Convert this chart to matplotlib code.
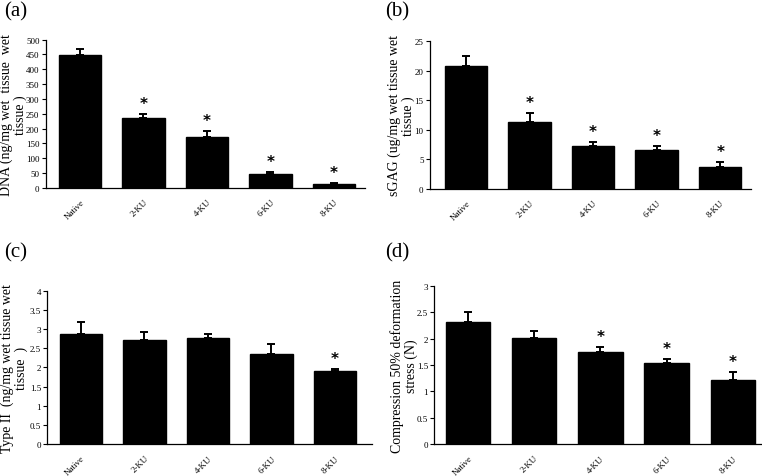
import numpy as np
import matplotlib
matplotlib.use("Agg")
import matplotlib.pyplot as plt

plt.rcParams['font.family'] = ['Liberation Serif', 'DejaVu Serif']

groups = ['Native', '2-KU', '4-KU', '6-KU', '8-KU']

dna = [448, 237, 173, 47, 13]
dna_err = [20, 11, 19, 6, 4]
dna_sig = [False, True, True, True, True]

sgag = [20.8, 11.3, 7.2, 6.6, 3.7]
sgag_err = [1.6, 1.6, 0.8, 0.7, 0.9]
sgag_sig = [False, True, True, True, True]

col2 = [2.87, 2.71, 2.77, 2.35, 1.90]
col2_err = [0.31, 0.23, 0.10, 0.27, 0.05]
col2_sig = [False, False, False, False, True]

comp = [2.31, 2.01, 1.75, 1.54, 1.21]
comp_err = [0.20, 0.13, 0.09, 0.07, 0.16]
comp_sig = [False, False, True, True, True]

panels = [
    dict(pos=[0.060, 0.604, 0.419, 0.311], vals=dna, err=dna_err, sig=dna_sig,
         ymax=500, step=50, xlim=(-0.54, 4.49), tag='(a)', tagpos=(0.005, 0.995),
         ylabel='DNA (ng/mg wet  tissue  wet\ntissue )', fmt='{:.0f}', labx=0.018),
    dict(pos=[0.564, 0.602, 0.422, 0.310], vals=sgag, err=sgag_err, sig=sgag_sig,
         ymax=25, step=5, xlim=(-0.57, 4.49), tag='(b)', tagpos=(0.505, 0.995),
         ylabel='sGAG (ug/mg wet tissue wet\ntissue )', fmt='{:.0f}', labx=0.527),
    dict(pos=[0.062, 0.067, 0.426, 0.321], vals=col2, err=col2_err, sig=col2_sig,
         ymax=4, step=0.5, xlim=(-0.53, 4.58), tag='(c)', tagpos=(0.005, 0.49),
         ylabel='Type II  (ng/mg wet tissue wet\ntissue  )', fmt='{:g}', labx=0.019),
    dict(pos=[0.570, 0.067, 0.429, 0.331], vals=comp, err=comp_err, sig=comp_sig,
         ymax=3, step=0.5, xlim=(-0.51, 4.43), tag='(d)', tagpos=(0.505, 0.49),
         ylabel='Compression 50% deformation\nstress (N)', fmt='{:g}', labx=0.530),
]

fig = plt.figure(figsize=(7.62, 4.77), dpi=100)

for p in panels:
    ax = fig.add_axes(p['pos'])
    x = np.arange(len(groups))
    vals = np.array(p['vals'])
    err = np.array(p['err'])
    ax.bar(x, vals, width=0.67, color='black', edgecolor='black', zorder=2)
    ax.errorbar(x, vals, yerr=[np.zeros_like(err), err], fmt='none', ecolor='black',
                elinewidth=1.4, capsize=3, capthick=1.4, zorder=1)
    for i, s in enumerate(p['sig']):
        if s:
            ax.text(x[i], vals[i] + err[i] + p['ymax'] * 0.02, '*', ha='center',
                    va='bottom', fontsize=11, fontweight='bold', family='DejaVu Sans')
    ax.set_xlim(*p['xlim'])
    ax.set_ylim(0, p['ymax'])
    ticks = np.arange(0, p['ymax'] + p['step'] / 2, p['step'])
    ax.set_yticks(ticks)
    ax.set_yticklabels([p['fmt'].format(t) for t in ticks], fontsize=6.5)
    ax.set_xticks(x)
    ax.set_xticklabels(groups, rotation=45, ha='right', rotation_mode='anchor', fontsize=6.5)
    ax.tick_params(axis='x', length=0, pad=7)
    ax.tick_params(axis='y', length=3, width=0.8, pad=1.5)
    for sp in ['top', 'right']:
        ax.spines[sp].set_visible(False)
    for sp in ['left', 'bottom']:
        ax.spines[sp].set_linewidth(0.9)
    bb = p['pos']
    fig.text(p['labx'], bb[1] + bb[3] / 2, p['ylabel'], rotation=90, ha='center',
             va='center', fontsize=10, linespacing=1.05, multialignment='center')
    fig.text(p['tagpos'][0], p['tagpos'][1], p['tag'], ha='left', va='top', fontsize=15)

fig.savefig('out.png', dpi=100)
